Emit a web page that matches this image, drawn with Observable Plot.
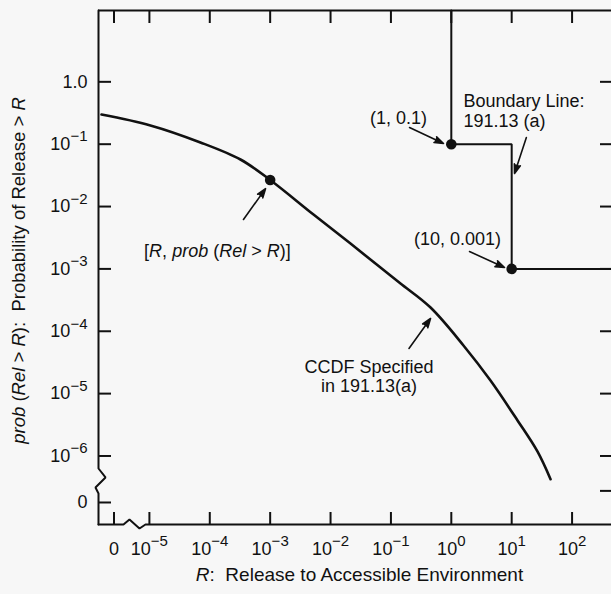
<!DOCTYPE html>
<html><head><meta charset="utf-8">
<script src="https://cdn.jsdelivr.net/npm/d3@7"></script>
<script src="https://cdn.jsdelivr.net/npm/@observablehq/plot@0.6"></script>
<style>
html,body{margin:0;padding:0;background:#f7f7f7;}
#chart svg{display:block;}
</style></head><body><div id="chart"></div>
<script>
// ---- Data ----
// CCDF curve: R (release) and probability of release > R
const ccdfR = [1.61e-6, 1.04e-5, 7.0e-5, 3.22e-4, 1e-3, 5.22e-3, 0.0214, 0.0671, 0.144, 0.453, 1.59, 4.46, 12.5, 26.7, 44.0];
const ccdfP = [0.299, 0.2, 0.1067, 0.0568, 0.0267, 7.45e-3, 2.55e-3, 1.05e-3, 5.83e-4, 2.40e-4, 5.92e-5, 1.62e-5, 3.71e-6, 1.18e-6, 4.23e-7];
// highlighted points
const pointR = [1e-3, 1, 10];
const pointP = [0.0267, 0.1, 0.001];
// boundary line corners (191.13(a))
const boundaryR = [1, 10, 10];
const boundaryP = [0.1, 0.1, 0.001];
// axis extents (decades) and the broken-axis "0" positions
const xExtent = [10 ** -5.843, 10 ** 2.653];
const yExtent = [10 ** -7.099, 10 ** 1.144];
const xZero = 10 ** -5.586;
const yZero = 10 ** -6.746;
const yZeroRight = 10 ** -6.56;
// ticks
const xTickVals = [xZero, 1e-5, 1e-4, 1e-3, 1e-2, 1e-1, 1, 10, 100];
const xTickLabels = ["0", "10^-5", "10^-4", "10^-3", "10^-2", "10^-1", "10^0", "10^1", "10^2"];
const yTickVals = [1, 0.1, 0.01, 1e-3, 1e-4, 1e-5, 1e-6, yZero];
const yTickLabels = ["1.0", "10^-1", "10^-2", "10^-3", "10^-4", "10^-5", "10^-6", "0"];
const yRightTickVals = [1, 0.1, 0.01, 1e-3, 1e-4, 1e-5, 1e-6, yZeroRight];
// axis-break zigzags (in decades)
const leftAxisXe = [-5.843, -5.843, -5.727, -5.893, -5.843, -5.843];
const leftAxisYe = [1.144, -6.201, -6.345, -6.505, -6.601, -7.099];
const bottomAxisXe = [-5.843, -5.429, -5.330, -5.164, -5.065, 2.653];
const bottomAxisYe = [-7.099, -7.099, -7.019, -7.163, -7.099, -7.099];
// annotations
const annoText = ["[*R*, *prob* (*Rel* > *R*)]", "CCDF Specified\nin 191.13(a)", "(1, 0.1)", "(10, 0.001)"];
const annoR = [10 ** -3.874, 10 ** -1.363, 10 ** -0.874, 10 ** 0.103];
const annoP = [10 ** -2.705, 10 ** -4.725, 10 ** -0.572, 10 ** -2.512];
const boundaryLabel = "Boundary Line:\n191.13 (a)";
const boundaryLabelR = 10 ** 0.202;
const boundaryLabelP = 10 ** -0.46;
// arrows (decades): x1,y1 -> x2,y2
const arrowX1 = [-3.442, -0.701, -0.692, 1.243, 0.301];
const arrowY1 = [-2.208, -4.276, -0.733, -0.893, -2.721];
const arrowX2 = [-3.077, -0.344, -0.129, 1.047, 0.881];
const arrowY2 = [-1.713, -3.795, -0.989, -1.470, -2.978];
const xTitle = "*R*:\u00a0 Release to Accessible Environment";
const yTitle = "*prob* (*Rel* > *R*):\u00a0 Probability of Release > *R*";

// ---- Build tables ----
const curve = ccdfR.map((r, i) => ({r, p: ccdfP[i]}));
const points = pointR.map((r, i) => ({r, p: pointP[i]}));
const boundary = [{r: 1, p: yExtent[1]}, ...boundaryR.map((r, i) => ({r, p: boundaryP[i]})), {r: xExtent[1], p: 0.001}];
const leftAxis = leftAxisXe.map((e, i) => ({r: 10 ** e, p: 10 ** leftAxisYe[i]}));
const bottomAxis = bottomAxisXe.map((e, i) => ({r: 10 ** e, p: 10 ** bottomAxisYe[i]}));
const xTicks = xTickVals.map((v, i) => ({v, label: xTickLabels[i]}));
const yTicks = yTickVals.map((v, i) => ({v, label: yTickLabels[i]}));
const annos = annoText.map((t, i) => ({t, r: annoR[i], p: annoP[i]}));
const arrows = arrowX1.map((x, i) => ({x1: 10 ** x, y1: 10 ** arrowY1[i], x2: 10 ** arrowX2[i], y2: 10 ** arrowY2[i]}));

const W = 611, H = 594, ML = 98, MR = 0, MT = 10, MB = 70;
const fw = W - ML - MR, fh = H - MT - MB;
const ink = "#111";

const svg = Plot.plot({
  width: W, height: H,
  marginLeft: ML, marginRight: MR, marginTop: MT, marginBottom: MB,
  style: {background: "#f7f7f7", color: ink, fontFamily: "'Liberation Sans', Arial, Helvetica, sans-serif", fontSize: "18px", overflow: "visible"},
  x: {type: "log", domain: xExtent, axis: null},
  y: {type: "log", domain: yExtent, axis: null},
  marks: [
    // frame
    Plot.ruleY([yExtent[1]], {stroke: ink, strokeWidth: 2}),
    Plot.line(leftAxis, {x: "r", y: "p", stroke: ink, strokeWidth: 2, strokeLinejoin: "miter"}),
    Plot.line(bottomAxis, {x: "r", y: "p", stroke: ink, strokeWidth: 2, strokeLinejoin: "miter"}),
    // inward ticks
    Plot.ruleX(xTickVals, {stroke: ink, strokeWidth: 2, insetTop: fh - 12}),
    Plot.ruleX(xTickVals, {stroke: ink, strokeWidth: 2, insetBottom: fh - 13}),
    Plot.ruleY(yTickVals, {stroke: ink, strokeWidth: 2, insetRight: fw - 13}),
    Plot.ruleY(yRightTickVals, {stroke: ink, strokeWidth: 2, insetLeft: fw - 11}),
    // tick labels
    Plot.text(xTicks, {x: "v", text: "label", frameAnchor: "bottom", dy: 30, fontSize: 18}),
    Plot.text(yTicks, {y: "v", text: "label", frameAnchor: "left", textAnchor: "end", dx: -11, fontSize: 18}),
    // axis titles
    Plot.text([xTitle], {frameAnchor: "bottom", textAnchor: "middle", dx: 4.5, dy: 56, fontSize: 19}),
    Plot.text([yTitle], {frameAnchor: "left", textAnchor: "middle", rotate: -90, dx: -79, dy: 3, fontSize: 18.5}),
    // boundary line
    Plot.line(boundary, {x: "r", y: "p", stroke: ink, strokeWidth: 2, strokeLinejoin: "miter"}),
    // CCDF curve
    Plot.line(curve, {x: "r", y: "p", stroke: ink, strokeWidth: 2.6, curve: "catmull-rom"}),
    Plot.dot(points, {x: "r", y: "p", r: 5.3, fill: ink, stroke: "none"}),
    // annotations
    Plot.arrow(arrows, {x1: "x1", y1: "y1", x2: "x2", y2: "y2", stroke: ink, fill: ink, strokeWidth: 1.6, headLength: 9, headAngle: 38}),
    Plot.text(annos, {x: "r", y: "p", text: "t", fontSize: 18, lineHeight: 1.05}),
    Plot.text([boundaryLabel], {x: () => boundaryLabelR, y: () => boundaryLabelP, textAnchor: "start", fontSize: 18, lineHeight: 1.1})
  ]
});

// superscripts and italic runs
d3.select(svg).selectAll("text").each(function () {
  const el = this;
  if (el.children.length) return;
  const s = el.textContent;
  if (s.includes("^")) {
    const [base, exp] = s.split("^");
    el.textContent = "";
    d3.select(el).append("tspan").text(base);
    d3.select(el).append("tspan").attr("dy", -8.5).attr("font-size", 15).text(exp.replace("-", "\u2212"));
  } else if (s.includes("*")) {
    el.textContent = "";
    s.split("*").forEach((part, i) => {
      if (!part) return;
      const t = d3.select(el).append("tspan").text(part);
      if (i % 2) t.attr("font-style", "italic");
    });
  }
});

document.getElementById("chart").appendChild(svg);
</script></body></html>
